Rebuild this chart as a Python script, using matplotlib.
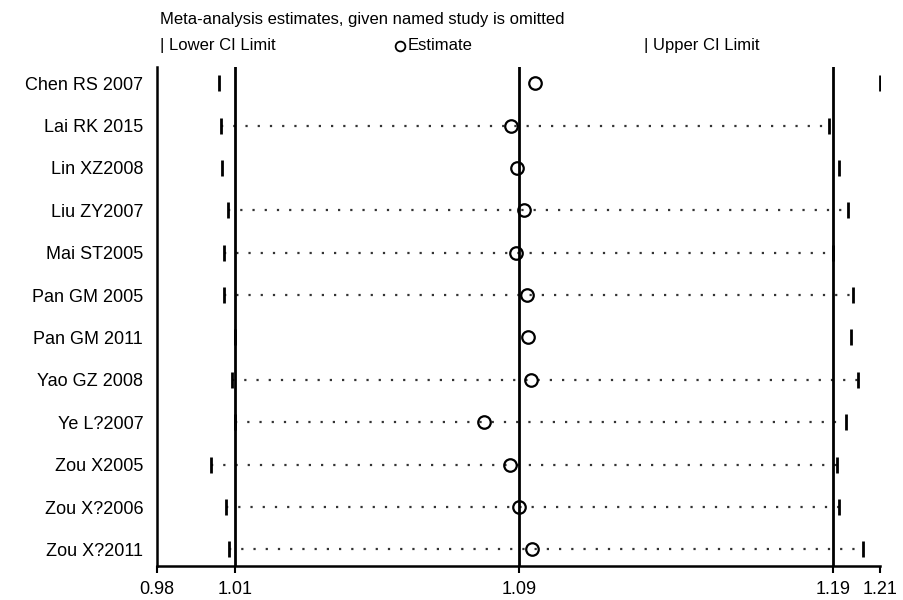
# metaninf style influence plot
import matplotlib
matplotlib.use('Agg')
import matplotlib.pyplot as plt
from matplotlib.lines import Line2D
from matplotlib import rcParams

rcParams['font.family'] = ['Liberation Sans', 'DejaVu Sans']
rcParams['font.size'] = 11

# data
studies = ['Chen RS 2007', 'Lai RK 2015', 'Lin XZ2008', 'Liu ZY2007', 'Mai ST2005',
           'Pan GM 2005', 'Pan GM 2011', 'Yao GZ 2008', 'Ye L?2007', 'Zou X2005',
           'Zou X?2006', 'Zou X?2011']
lower = [1.0005, 1.0009, 1.0014, 1.0031, 1.0020, 1.0020,
         1.0054, 1.0043, 1.0054, 0.9978, 1.0025, 1.0036]
estimate = [1.0991, 1.0916, 1.0934, 1.0958, 1.0931, 1.0965,
            1.0970, 1.0979, 1.0833, 1.0913, 1.0941, 1.0983]
upper = [1.2069, 1.1908, 1.1941, 1.1968, 1.1923, 1.1986,
         1.1978, 1.2000, 1.1962, 1.1936, 1.1941, 1.2015]
# studies whose dotted connector is visible in the picture
with_connector = ['Lai RK 2015', 'Liu ZY2007', 'Mai ST2005', 'Pan GM 2005', 'Yao GZ 2008',
                  'Ye L?2007', 'Zou X2005', 'Zou X?2006', 'Zou X?2011']

# overall estimate and axis limits (ticks)
axis_min, axis_max = 0.981, 1.2069
overall = [1.0054, 1.0942, 1.1923]

fig = plt.figure(figsize=(9.04, 6), dpi=100)
ax = fig.add_axes([0.1737, 0.0567, 0.7998, 0.8316])

ypos = list(range(len(studies)))

for i, name in enumerate(studies):
    if name in with_connector:
        ax.plot([lower[i], upper[i]], [i, i], color='#333333', lw=1.6,
                linestyle=(0, (1, 4.5)), zorder=1)

for v in overall:
    ax.axvline(v, color='black', lw=2, zorder=2)

ax.plot(lower, ypos, linestyle='none', marker='|', markersize=11, mew=2,
        color='black', zorder=3)
ax.plot(upper, ypos, linestyle='none', marker='|', markersize=11, mew=2,
        color='black', zorder=3)
ax.plot(estimate, ypos, linestyle='none', marker='o', markersize=9, mew=1.6,
        markerfacecolor='none', markeredgecolor='black', zorder=4)

ax.set_xlim(axis_min, axis_max)
ax.set_ylim(len(studies) - 1 + 0.39, -0.38)

ticks = [axis_min] + overall + [axis_max]
ax.set_xticks(ticks)
ax.set_xticklabels([f'{t:.2f}' for t in ticks], fontsize=13)
ax.set_yticks(ypos)
ax.set_yticklabels(studies, fontsize=13)

ax.tick_params(axis='x', direction='out', length=5, width=1.5, pad=6)
ax.tick_params(axis='y', length=0, pad=10)

for side in ['top', 'right']:
    ax.spines[side].set_visible(False)
for side in ['left', 'bottom']:
    ax.spines[side].set_linewidth(1.8)

# title and legend row
fig.text(0.177, 0.968, 'Meta-analysis estimates, given named study is omitted',
         fontsize=12, va='center', ha='left')
fig.text(0.177, 0.924, '| Lower CI Limit', fontsize=12, va='center', ha='left')
fig.add_artist(Line2D([0.443], [0.924], marker='o', markersize=7, mew=1.3,
                      markerfacecolor='none', markeredgecolor='black',
                      transform=fig.transFigure))
fig.text(0.451, 0.924, 'Estimate', fontsize=12, va='center', ha='left')
fig.text(0.712, 0.924, '| Upper CI Limit', fontsize=12, va='center', ha='left')

fig.savefig('out.png', dpi=100)
